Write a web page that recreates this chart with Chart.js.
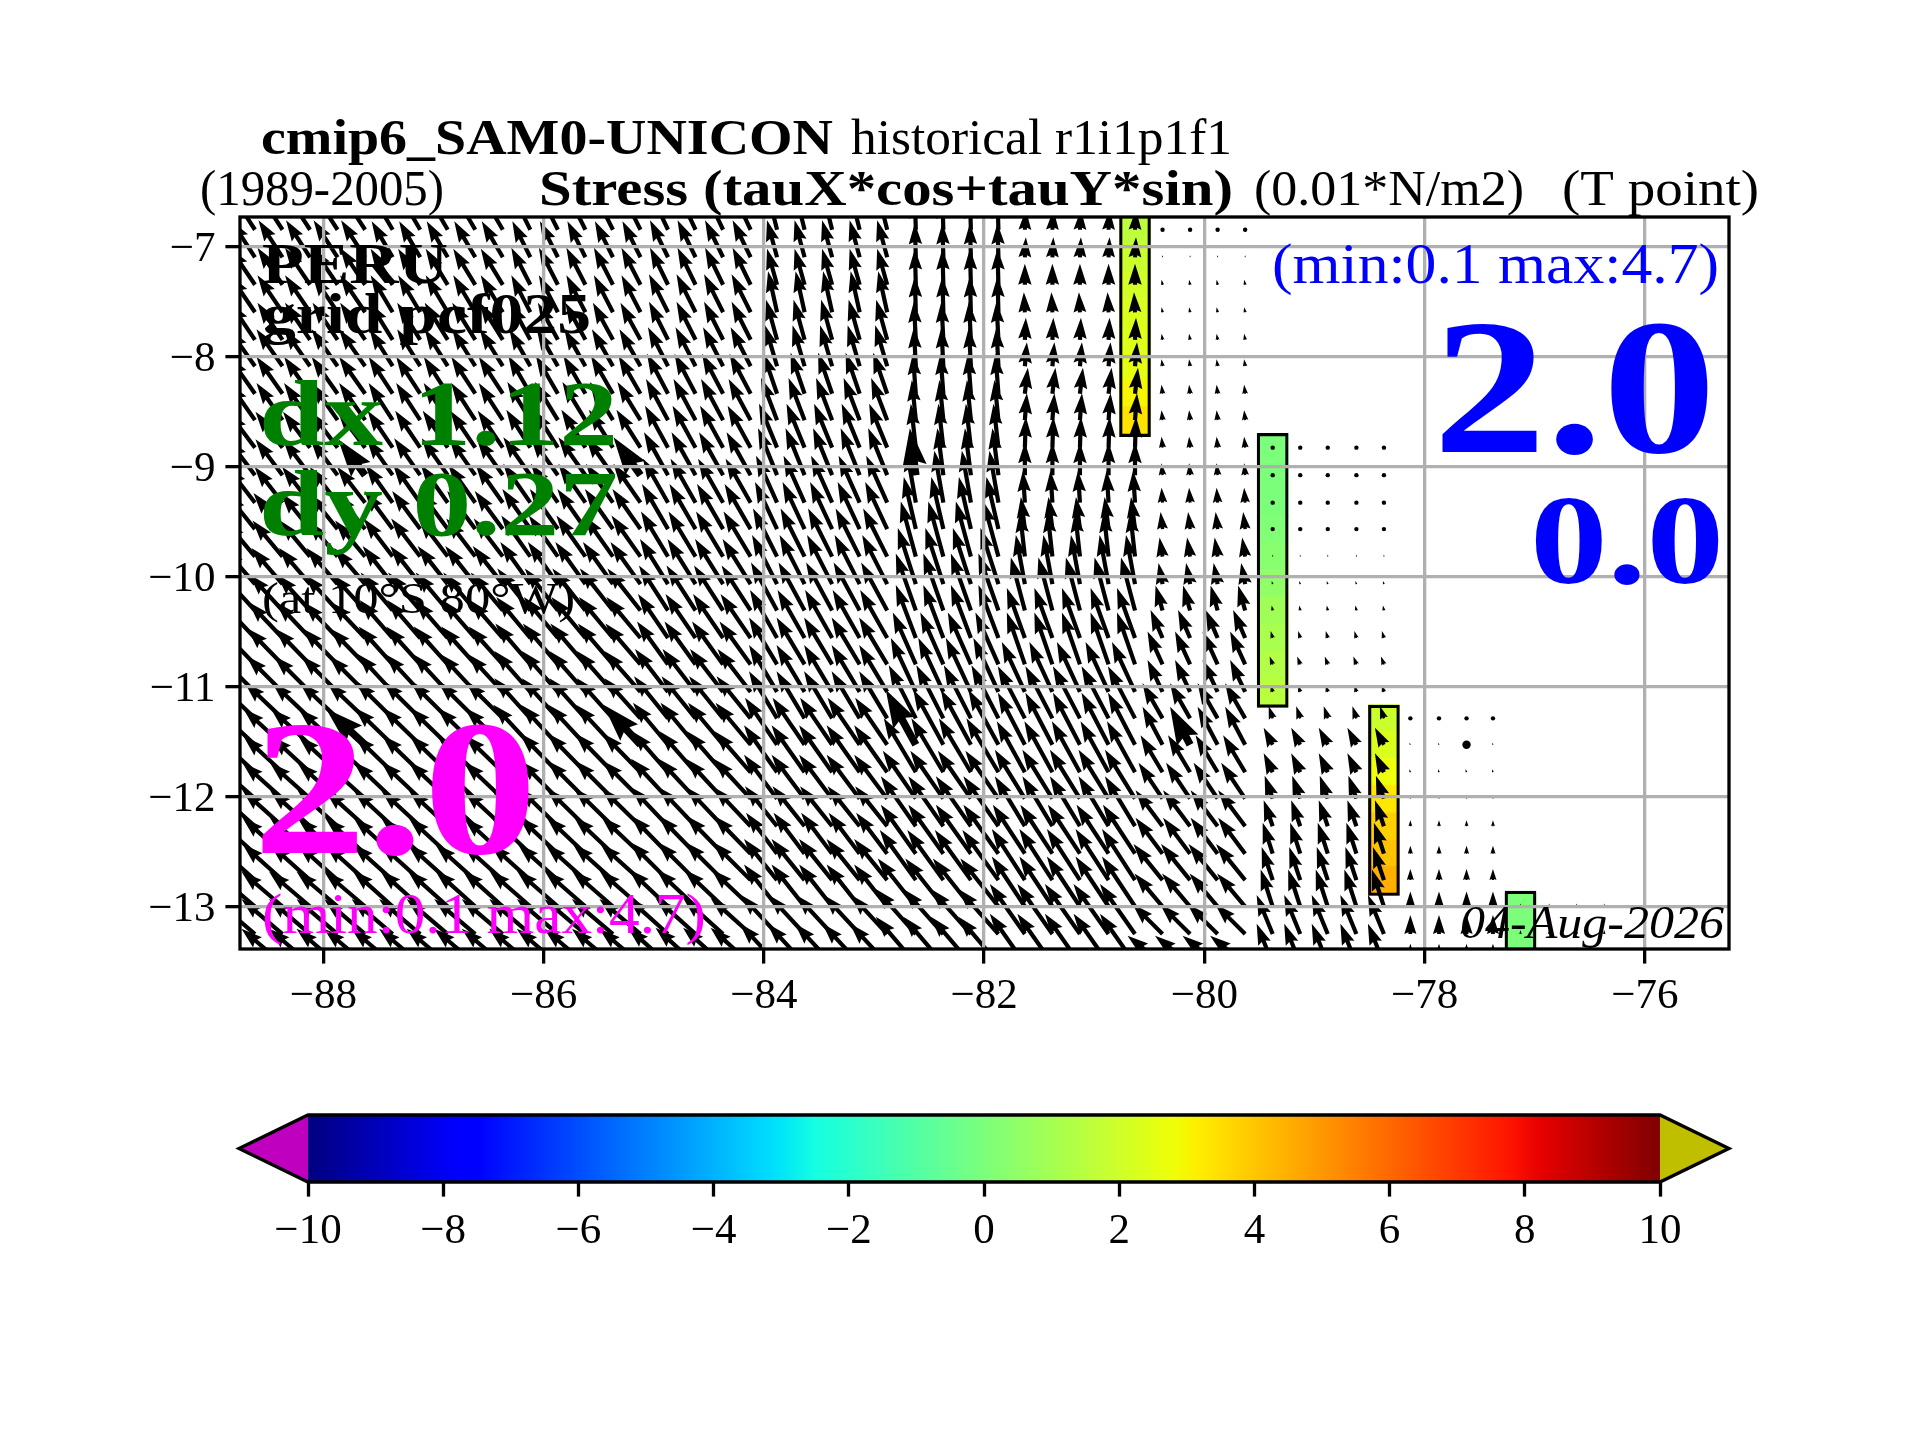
<!DOCTYPE html>
<html>
<head>
<meta charset="utf-8">
<title>cmip6_SAM0-UNICON Stress</title>
<script src="https://cdn.jsdelivr.net/npm/chart.js@4"></script>
<style>
body { margin: 0; background: #fff; }
canvas { position: absolute; left: 0; }
#mapChart { top: 0; }
#barChart { top: 1040px; }
</style>
</head>
<body>
<canvas id="mapChart" width="1920" height="1040"></canvas>
<canvas id="barChart" width="1920" height="400"></canvas>
<script>
// Latitude of each row of arrows, top to bottom
const rowLats = [-6.85,-7.10,-7.35,-7.60,-7.85,-8.09,-8.34,-8.58,-8.83,-9.08,-9.33,-9.57,-9.82,-10.07,-10.31,-10.56,-10.80,-11.05,-11.29,-11.53,-11.78,-12.02,-12.27,-12.52,-12.76,-13.00,-13.25,-13.52];

// Longitudes that share one model cell, and the stress read for that cell per row
const lonsA = [-88.62,-88.37,-88.12,-87.87,-87.62];
const uA = [-24,-24,-25,-25,-25,-26,-26,-26,-27,-27,-28,-29,-30,-31,-33,-34,-35,-36,-38,-39,-39,-40,-40,-40,-40,-41,-41,-41];
const vA = [37,37,37,37,37,37,37,37,36,36,36,36,36,36,36,36,36,36,36,36,36,36,36,36,36,35,35,35];

const lonsB = [-87.37,-87.12,-86.87,-86.62,-86.37];
const uB = [-21,-21,-22,-22,-23,-23,-24,-24,-25,-26,-27,-28,-29,-30,-32,-33,-34,-35,-37,-38,-38,-39,-39,-39,-40,-40,-41,-41];
const vB = [36,36,36,37,37,37,37,37,37,37,38,38,38,38,38,38,38,38,37,37,37,37,36,36,36,36,35,35];

const lonsC = [-86.12,-85.87,-85.62,-85.37,-85.12];
const uC = [-18,-18,-19,-19,-20,-21,-22,-23,-24,-27,-27,-28,-29,-30,-33,-34,-35,-36,-36,-37,-38,-38,-39,-39,-40,-41,-41,-41];
const vC = [36,36,37,37,37,37,38,38,38,38,39,40,41,42,42,41,41,41,40,40,39,38,38,37,36,36,35,35];

const lonsD = [-84.87,-84.62,-84.37,-84.12];
const uD = [-17,-18,-18,-19,-19,-20,-21,-22,-23,-24,-25,-26,-27,-28,-29,-30,-31,-33,-34,-35,-36,-37,-37,-37,-38,-39,-40,-40];
const vD = [36,37,37,38,38,39,40,41,42,43,44,45,45,45,45,44,43,43,42,42,41,40,39,38,38,37,36,36];

const lonsE = [-83.88,-83.63,-83.38,-83.13,-82.88];
const uE = [-9,-10,-10,-9,-11,-12,-14,-16,-18,-19,-21,-22,-24,-25,-26,-27,-28,-28,-28,-32,-33,-33,-32,-31,-33,-33,-36,-37];
const vE = [36,37,36,41,40,41,41,42,44,47,47,47,48,49,48,48,47,47,47,47,47,44,40,41,41,42,39,40];

const lonsF = [-82.62,-82.37,-82.12,-81.87];
const uF = [-1,-1,-1,-1,-2,-2,-3,-4,-5,-6,-9,-12,-15,-18,-20,-20,-23,-25,-27,-30,-32,-33,-35,-35,-36,-38,-40,-40];
const vF = [32,34,36,36,38,39,40,40,44,47,52,52,55,56,57,53,52,54,53,55,54,48,50,49,50,48,45,47];

const lonsG = [-81.63,-81.38,-81.13,-80.87,-80.63];
const uG = [1,1,0,-1,1,2,3,2,1,0,-2,-4,-5,-9,-14,-18,-18,-23,-27,-27,-28,-30,-30,-32,-33,-33,-35,-35];
const vG = [20,20,21,20,22,24,26,27,31,33,32,32,45,49,53,50,52,50,52,52,51,49,50,49,51,50,50,50];

const lonsH = [-80.38,-80.13,-79.88,-79.63];
const uH = [0,0,-1,-1,-1,-1,-1,-1,-1,-1,-1,-2,-3,-4,-7,-12,-15,-15,-20,-20,-22,-24,-27,-27,-29,-28,-30,-35];
const vH = [1,2,5,5,6,7,9,10,11,12,15,17,19,21,25,28,33,32,35,38,37,36,36,36,36,33,30,28];

const lonsI = [-79.38,-79.13,-78.88,-78.62,-78.37];
const uI = [null,null,null,null,null,null,null,null,0,0,0,0,0,-1,-1,-2,-3,-2,-4,-9,-9,-8,-9,-10,-11,-12,-16,-16];
const vI = [null,null,null,null,null,null,null,null,1,1,1,1,2,3,5,7,8,7,12,17,19,23,26,31,33,37,39,40];

const lonsJ = [-78.13,-77.87,-77.62,-77.38];
const uJ = [null,null,null,null,null,null,null,null,null,null,null,null,null,null,null,null,null,null,0,-1,-1,0,0,0,0,0,0,0];
const vJ = [null,null,null,null,null,null,null,null,null,null,null,null,null,null,null,null,null,null,1,2,3,2,6,8,11,15,19,20];

const lonsK = [-77.13,-76.87,-76.62,-76.37];
const uK = [null,null,null,null,null,null,null,null,null,null,null,null,null,null,null,null,null,null,null,null,null,null,null,null,null,0,0,0];
const vK = [null,null,null,null,null,null,null,null,null,null,null,null,null,null,null,null,null,null,null,null,null,null,null,null,null,3,4,4];

// Every tenth point of the grid is drawn with a heavier arrow
const thickLons = [-87.62,-85.12,-82.62,-80.13,-77.62];
const thickLats = [-9.08,-11.53];

// Coloured coastal columns: longitude, first row, top and bottom edge, value of each cell
const coastLons = [-80.63,-79.38,-78.37,-77.13];
const coastFirstRow = [0,8,18,25];
const coastTops = [-6.70,-8.70,-11.17,-12.86];
const coastBottoms = [-8.73,-11.19,-12.90,-13.60];
const coastValues = [
    [1.6,1.9,2.1,2.3,2.4,2.6,3.0,3.4],
    [0,0,0,0.1,0.3,0.5,0.9,1.1,1.3,1.5],
    [1.9,2.3,2.8,3.3,3.8,4.1,4.5],
    [0,0,0]
];

const xTicks = [-88,-86,-84,-82,-80,-78,-76];
const yTicks = [-7,-8,-9,-10,-11,-12,-13];
const barTicks = [-10,-8,-6,-4,-2,0,2,4,6,8,10];

const FONT = '"Liberation Serif"';
const ARROW_UNIT = 1 / 110;   // degrees per unit of stress on the map
const SHAFT = 4.2;

// matplotlib jet, used by both the cells and the colour bar
const jetR = [[0,0],[0.35,0],[0.66,1],[0.89,1],[1,0.5]];
const jetG = [[0,0],[0.125,0],[0.375,1],[0.64,1],[0.91,0],[1,0]];
const jetB = [[0,0.5],[0.11,1],[0.34,1],[0.65,0],[1,0]];

function channel(segs, f) {
    for (let i = 1; i < segs.length; i++) {
        if (f <= segs[i][0]) {
            const t = (f - segs[i - 1][0]) / (segs[i][0] - segs[i - 1][0]);
            return Math.round(255 * (segs[i - 1][1] + t * (segs[i][1] - segs[i - 1][1])));
        }
    }
    return Math.round(255 * segs[segs.length - 1][1]);
}

function jet(f) {
    return `rgb(${channel(jetR, f)},${channel(jetG, f)},${channel(jetB, f)})`;
}

function valueColor(v) {
    return jet((v + 10) / 20);
}

// Build the chart data from the arrays above
const blocks = [
    [lonsA, uA, vA], [lonsB, uB, vB], [lonsC, uC, vC], [lonsD, uD, vD],
    [lonsE, uE, vE], [lonsF, uF, vF], [lonsG, uG, vG], [lonsH, uH, vH],
    [lonsI, uI, vI], [lonsJ, uJ, vJ], [lonsK, uK, vK]
];

const arrowPoints = [];
blocks.forEach(([lons, us, vs]) => {
    lons.forEach(lon => {
        rowLats.forEach((lat, r) => {
            if (us[r] === null) return;
            arrowPoints.push({
                x: lon, y: lat, u: us[r], v: vs[r],
                thick: thickLons.includes(lon) && thickLats.includes(lat)
            });
        });
    });
});

const CELL_HALF = 0.124;
const cellBars = [];
const cellColors = [];
const outlineBars = [];
coastLons.forEach((lon, b) => {
    const first = coastFirstRow[b];
    const vals = coastValues[b];
    vals.forEach((val, i) => {
        const lat = rowLats[first + i];
        const low = i === vals.length - 1 ? coastBottoms[b] : lat - CELL_HALF;
        cellBars.push({ x: lon, y: [low, lat + CELL_HALF] });
        cellColors.push(valueColor(val));
    });
    outlineBars.push({ x: lon, y: [coastBottoms[b], coastTops[b]] });
});

function minusLabel(v) {
    return v < 0 ? '\u2212' + Math.abs(v) : String(v);
}

// Quiver arrows, pivot at the tail, same shape rules as matplotlib
function drawArrow(ctx, x0, y0, x1, y1, thick) {
    const w = thick ? SHAFT * 1.8 : SHAFT;
    const dx = x1 - x0;
    const dy = y1 - y0;
    const len = Math.hypot(dx, dy);
    if (len < (thick ? 4 : 2)) {
        ctx.beginPath();
        ctx.arc(x0, y0, thick ? 4.2 : 2.2, 0, Math.PI * 2);
        ctx.fill();
        return;
    }
    const s = Math.min(1, len / (5 * w));
    const hw = 1.6 * w * s;
    const sw = 0.5 * w * s;
    const notch = len - 4.5 * w * s;
    const head = len - 5 * w * s;
    const ux = dx / len;
    const uy = dy / len;
    const pt = (a, b) => [x0 + ux * a - uy * b, y0 + uy * a + ux * b];
    const shape = [pt(0, -sw), pt(notch, -sw), pt(head, -hw), pt(len, 0), pt(head, hw), pt(notch, sw), pt(0, sw)];
    ctx.beginPath();
    shape.forEach((p, i) => (i ? ctx.lineTo(p[0], p[1]) : ctx.moveTo(p[0], p[1])));
    ctx.closePath();
    ctx.fill();
}

const quiverPlugin = {
    id: 'quiver',
    afterDatasetsDraw(chart) {
        const { ctx, chartArea, scales } = chart;
        ctx.save();
        ctx.beginPath();
        ctx.rect(chartArea.left, chartArea.top, chartArea.width, chartArea.height);
        ctx.clip();
        ctx.fillStyle = '#000';
        arrowPoints.forEach(p => {
            drawArrow(ctx,
                scales.x.getPixelForValue(p.x),
                scales.y.getPixelForValue(p.y),
                scales.x.getPixelForValue(p.x + p.u * ARROW_UNIT),
                scales.y.getPixelForValue(p.y + p.v * ARROW_UNIT),
                p.thick);
        });
        ctx.restore();
    }
};

// Labels: text, left edge, right edge, baseline, size, weight, style, colour
const mapLabels = [
    ['cmip6_SAM0-UNICON', 261, 833, 154, 50, 'bold', 'normal', '#000'],
    ['historical r1i1p1f1', 851, 1232, 154, 50, 'normal', 'normal', '#000'],
    ['(1989-2005)', 200, 444, 205, 50, 'normal', 'normal', '#000'],
    ['Stress (tauX*cos+tauY*sin)', 539, 1233, 205, 50, 'bold', 'normal', '#000'],
    ['(0.01*N/m2)', 1254, 1524, 205, 50, 'normal', 'normal', '#000'],
    ['(T point)', 1562, 1759, 205, 50, 'normal', 'normal', '#000'],
    ['PERU', 262, 448, 283, 58, 'bold', 'normal', '#000'],
    ['grid pcf025', 262, 591, 333, 58, 'bold', 'normal', '#000'],
    ['dx 1.12', 259, 618, 445, 94, 'bold', 'normal', 'green'],
    ['dy 0.27', 259, 618, 535, 94, 'bold', 'normal', 'green'],
    ['(at 10\u00b0S 80\u00b0W)', 262, 575, 613, 44, 'normal', 'normal', '#000'],
    ['(min:0.1 max:4.7)', 1272, 1719, 283, 58, 'normal', 'normal', 'blue'],
    ['2.0', 1433, 1716, 452, 192, 'bold', 'normal', 'blue'],
    ['0.0', 1530, 1724, 583, 128, 'bold', 'normal', 'blue'],
    ['2.0', 253, 537, 853, 192, 'bold', 'normal', 'magenta'],
    ['(min:0.1 max:4.7)', 262, 706, 933, 58, 'normal', 'normal', 'magenta'],
    ['04-Aug-2026', 1460, 1724, 938, 46, 'normal', 'italic', '#000']
];

const framePlugin = {
    id: 'frame',
    afterDraw(chart) {
        const { ctx, chartArea } = chart;
        ctx.save();
        ctx.strokeStyle = '#000';
        ctx.lineWidth = 3.3;
        ctx.strokeRect(chartArea.left, chartArea.top, chartArea.width, chartArea.height);
        ctx.textBaseline = 'alphabetic';
        ctx.textAlign = 'left';
        mapLabels.forEach(([text, left, right, base, size, weight, style, color]) => {
            ctx.font = `${style} ${weight} ${size}px ${FONT}`;
            ctx.fillStyle = color;
            const stretch = (right - left) / ctx.measureText(text).width;
            ctx.save();
            ctx.translate(left, base);
            ctx.scale(stretch, 1);
            ctx.fillText(text, 0, 0);
            ctx.restore();
        });
        ctx.restore();
    }
};

new Chart(document.getElementById('mapChart'), {
    type: 'scatter',
    data: {
        datasets: [
            { type: 'bar', data: cellBars, backgroundColor: cellColors, borderWidth: 0, barThickness: 31, grouped: false, order: 3 },
            { type: 'bar', data: outlineBars, backgroundColor: 'rgba(0,0,0,0)', borderColor: '#000', borderWidth: 2.5, borderSkipped: false, barThickness: 31, grouped: false, order: 2 },
            { data: arrowPoints, pointRadius: 0, showLine: false, order: 1 }
        ]
    },
    options: {
        responsive: false,
        animation: false,
        devicePixelRatio: 1,
        layout: { padding: { top: 217, right: 191, left: 0, bottom: 0 } },
        plugins: { legend: { display: false }, tooltip: { enabled: false } },
        scales: {
            x: {
                type: 'linear',
                offset: false,
                min: -88.756,
                max: -75.237,
                afterBuildTicks: s => { s.ticks = xTicks.map(v => ({ value: v })); },
                afterFit: s => { s.height = 91; },
                grid: { offset: false, color: '#b0b0b0', lineWidth: 3.3, tickColor: '#000', tickWidth: 3.3, tickLength: 14.6, z: 1 },
                border: { display: false },
                ticks: { color: '#000', maxRotation: 0, padding: 7, font: { family: FONT, size: 43 }, callback: minusLabel }
            },
            y: {
                type: 'linear',
                min: -13.386,
                max: -6.734,
                afterBuildTicks: s => { s.ticks = yTicks.map(v => ({ value: v })); },
                afterFit: s => { s.width = 240; },
                grid: { color: '#b0b0b0', lineWidth: 3.3, tickColor: '#000', tickWidth: 3.3, tickLength: 14.6, z: 1 },
                border: { display: false },
                // empty first line nudges the label down a little, lineHeight sets how much
                ticks: { color: '#000', padding: 10, font: { family: FONT, size: 43, lineHeight: 0.14 }, callback: v => ['', minusLabel(v)] }
            }
        }
    },
    plugins: [quiverPlugin, framePlugin]
});

// Colour bar with its two extension triangles
const outsideLow = -11.02;
const outsideHigh = 11.02;

const extendPlugin = {
    id: 'extend',
    afterDatasetsDraw(chart) {
        const { ctx, chartArea, scales } = chart;
        const xLow = scales.x.getPixelForValue(-10);
        const xHigh = scales.x.getPixelForValue(10);
        const mid = (chartArea.top + chartArea.bottom) / 2;
        const triangle = (xBase, xTip, color) => {
            ctx.beginPath();
            ctx.moveTo(xBase, chartArea.top);
            ctx.lineTo(xTip, mid);
            ctx.lineTo(xBase, chartArea.bottom);
            ctx.closePath();
            ctx.fillStyle = color;
            ctx.fill();
        };
        ctx.save();
        triangle(xLow, scales.x.getPixelForValue(outsideLow), '#bf00bf');
        triangle(xHigh, scales.x.getPixelForValue(outsideHigh), '#bfbf00');
        ctx.beginPath();
        ctx.moveTo(xLow, chartArea.top);
        ctx.lineTo(xHigh, chartArea.top);
        ctx.lineTo(scales.x.getPixelForValue(outsideHigh), mid);
        ctx.lineTo(xHigh, chartArea.bottom);
        ctx.lineTo(xLow, chartArea.bottom);
        ctx.lineTo(scales.x.getPixelForValue(outsideLow), mid);
        ctx.closePath();
        ctx.strokeStyle = '#000';
        ctx.lineWidth = 3.3;
        ctx.stroke();
        ctx.restore();
    }
};

function barGradient(context) {
    const { chart } = context;
    if (!chart.chartArea) return '#fff';
    const x = chart.scales.x;
    const g = chart.ctx.createLinearGradient(x.getPixelForValue(-10), 0, x.getPixelForValue(10), 0);
    for (let i = 0; i <= 128; i++) g.addColorStop(i / 128, jet(i / 128));
    return g;
}

new Chart(document.getElementById('barChart'), {
    type: 'bar',
    data: {
        labels: [''],
        datasets: [{ data: [[-10, 10]], backgroundColor: barGradient, borderWidth: 0, barPercentage: 1, categoryPercentage: 1 }]
    },
    options: {
        indexAxis: 'y',
        responsive: false,
        animation: false,
        devicePixelRatio: 1,
        layout: { padding: { top: 75, right: 260, left: 0, bottom: 0 } },
        plugins: { legend: { display: false }, tooltip: { enabled: false } },
        scales: {
            x: {
                type: 'linear',
                min: -10,
                max: 10,
                afterBuildTicks: s => { s.ticks = barTicks.map(v => ({ value: v })); },
                afterFit: s => { s.height = 258; },
                grid: { drawOnChartArea: false, tickColor: '#000', tickWidth: 3.3, tickLength: 14.6 },
                border: { display: false },
                ticks: { color: '#000', maxRotation: 0, padding: 9, font: { family: FONT, size: 43 }, callback: minusLabel }
            },
            y: {
                afterFit: s => { s.width = 308; },
                grid: { display: false },
                border: { display: false },
                ticks: { display: false }
            }
        }
    },
    plugins: [extendPlugin]
});
</script>
</body>
</html>
